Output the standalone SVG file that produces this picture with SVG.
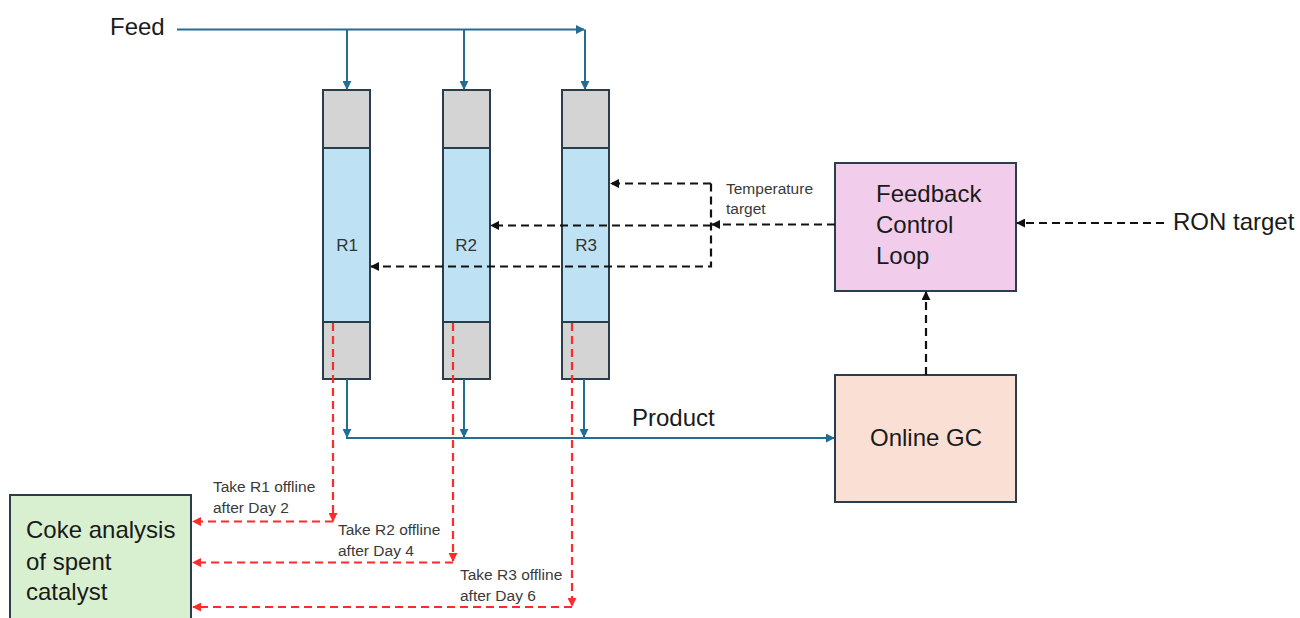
<svg xmlns="http://www.w3.org/2000/svg" width="1300" height="618" viewBox="0 0 1300 618">
  <style>
    .lbl { font-family: "Liberation Sans", Arial, sans-serif; fill: #1a1a1a; }
    .big { font-size: 24px; }
    .small { font-size: 15.5px; fill: #3a3a3a; }
    .rname { font-size: 17px; fill: #333; text-anchor: middle; }
    .box { stroke: #2b3d4d; stroke-width: 2; }
    .cap { fill: #d4d4d4; stroke: #2b3d4d; stroke-width: 2; }
    .bed { fill: #bee2f4; stroke: #2b3d4d; stroke-width: 2; }
    .flow { fill: none; stroke: #236c93; stroke-width: 2; }
    .ctrl { fill: none; stroke: #111; stroke-width: 2.2; stroke-dasharray: 8 5; }
    .off { fill: none; stroke: #ff2a2a; stroke-width: 2.2; stroke-dasharray: 8 5; }
  </style>
  <defs>
    <marker id="aBlue" viewBox="0 0 10 10" refX="9" refY="5" markerWidth="9" markerHeight="9" markerUnits="userSpaceOnUse" orient="auto">
      <path d="M0,0 L10,5 L0,10 z" fill="#236c93"/>
    </marker>
    <marker id="aBlack" viewBox="0 0 10 10" refX="9" refY="5" markerWidth="9" markerHeight="9" markerUnits="userSpaceOnUse" orient="auto">
      <path d="M0,0 L10,5 L0,10 z" fill="#111"/>
    </marker>
    <marker id="aRed" viewBox="0 0 10 10" refX="9" refY="5" markerWidth="9" markerHeight="9" markerUnits="userSpaceOnUse" orient="auto">
      <path d="M0,0 L10,5 L0,10 z" fill="#ff2a2a"/>
    </marker>
  </defs>

  <rect width="1300" height="618" fill="#ffffff"/>

  <!-- reactors -->
  <g id="reactor-r1">
    <rect class="cap" x="323" y="90" width="47" height="58"/>
    <rect class="bed" x="323" y="148" width="47" height="174"/>
    <rect class="cap" x="323" y="322" width="47" height="57"/>
    <text class="lbl rname" x="347" y="251">R1</text>
  </g>
  <g id="reactor-r2">
    <rect class="cap" x="443" y="90" width="47" height="58"/>
    <rect class="bed" x="443" y="148" width="47" height="174"/>
    <rect class="cap" x="443" y="322" width="47" height="57"/>
    <text class="lbl rname" x="466" y="251">R2</text>
  </g>
  <g id="reactor-r3">
    <rect class="cap" x="562" y="90" width="47" height="58"/>
    <rect class="bed" x="562" y="148" width="47" height="174"/>
    <rect class="cap" x="562" y="322" width="47" height="57"/>
    <text class="lbl rname" x="586" y="251">R3</text>
  </g>

  <!-- controller, analyser and coke analysis -->
  <g id="feedback-control">
    <rect class="box" x="835" y="163" width="181" height="128" fill="#f2cdeb"/>
    <text class="lbl big" x="876" y="202">Feedback</text>
    <text class="lbl big" x="876" y="233">Control</text>
    <text class="lbl big" x="876" y="264">Loop</text>
  </g>
  <g id="online-gc">
    <rect class="box" x="835" y="375" width="181" height="127" fill="#fae0d4"/>
    <text class="lbl big" x="926" y="446" text-anchor="middle">Online GC</text>
  </g>
  <g id="coke-analysis">
    <rect class="box" x="10" y="495" width="181" height="130" fill="#d8f0d0"/>
    <text class="lbl big" x="26" y="538">Coke analysis</text>
    <text class="lbl big" x="26" y="570">of spent</text>
    <text class="lbl big" x="26" y="600">catalyst</text>
  </g>

  <!-- connectors -->
  <g id="connectors">
    <!-- feed header -->
    <path class="flow" d="M177,29.5 H584" marker-end="url(#aBlue)"/>
    <path class="flow" d="M585,29.5 V89" marker-end="url(#aBlue)"/>
    <path class="flow" d="M347,29.5 V89" marker-end="url(#aBlue)"/>
    <path class="flow" d="M464,29.5 V89" marker-end="url(#aBlue)"/>

    <!-- product header -->
    <path class="flow" d="M347,379 V437" marker-end="url(#aBlue)"/>
    <path class="flow" d="M464,379 V437" marker-end="url(#aBlue)"/>
    <path class="flow" d="M584,379 V437" marker-end="url(#aBlue)"/>
    <path class="flow" d="M346,438 H834" marker-end="url(#aBlue)"/>

    <!-- temperature targets -->
    <path class="ctrl" d="M835,224.5 H712" marker-end="url(#aBlack)"/>
    <path class="ctrl" d="M711,225.5 H491" marker-end="url(#aBlack)"/>
    <path class="ctrl" d="M711,183.5 H611" marker-end="url(#aBlack)"/>
    <path class="ctrl" d="M711,183.5 V266.5 H371" marker-end="url(#aBlack)"/>

    <!-- RON target and GC signal -->
    <path class="ctrl" d="M1164,223 H1017" marker-end="url(#aBlack)"/>
    <path class="ctrl" d="M926,375 V292" marker-end="url(#aBlack)"/>

    <!-- reactors taken offline -->
    <path class="off" d="M333,323 V521" marker-end="url(#aRed)"/>
    <path class="off" d="M333,521.5 H193" marker-end="url(#aRed)"/>
    <path class="off" d="M453,323 V561" marker-end="url(#aRed)"/>
    <path class="off" d="M453,562.5 H193" marker-end="url(#aRed)"/>
    <path class="off" d="M572,323 V606" marker-end="url(#aRed)"/>
    <path class="off" d="M572,607 H193" marker-end="url(#aRed)"/>
  </g>

  <!-- stream and signal labels -->
  <text class="lbl big" x="110" y="35" font-size="23">Feed</text>
  <text class="lbl big" x="632" y="426">Product</text>
  <text class="lbl big" x="1173" y="230">RON target</text>
  <text class="lbl small" x="726" y="194">Temperature</text>
  <text class="lbl small" x="726" y="214">target</text>
  <text class="lbl small" x="213" y="492">Take R1 offline</text>
  <text class="lbl small" x="213" y="513">after Day 2</text>
  <text class="lbl small" x="338" y="535">Take R2 offline</text>
  <text class="lbl small" x="338" y="556">after Day 4</text>
  <text class="lbl small" x="460" y="580">Take R3 offline</text>
  <text class="lbl small" x="460" y="601">after Day 6</text>
</svg>
